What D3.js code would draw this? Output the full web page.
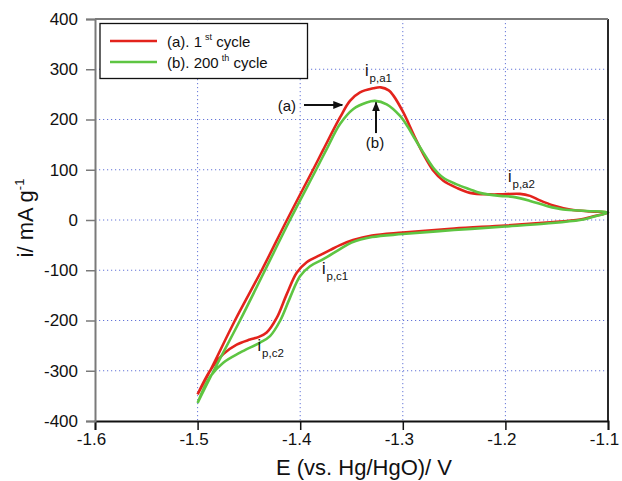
<!DOCTYPE html>
<html>
<head>
<meta charset="utf-8">
<script src="https://cdn.jsdelivr.net/npm/d3@7"></script>
<style>
  html, body { margin: 0; padding: 0; background: #fff; }
  svg { display: block; font-family: "Liberation Sans", Arial, Helvetica, sans-serif; }
</style>
</head>
<body>
<svg id="chart" width="622" height="481"></svg>
<script>
// Cyclic voltammograms: potential E (V vs. Hg/HgO) and specific current i (mA/g)
// 1st cycle, anodic sweep (-1.5 V -> -1.1 V)
const cycle1AnodicE = [-1.5, -1.4878, -1.4636, -1.4375, -1.4129, -1.3875, -1.3775, -1.3612, -1.3515, -1.3417, -1.3287, -1.3215, -1.3137, -1.3093, -1.2995, -1.2897, -1.2800, -1.2702, -1.2605, -1.2475, -1.2345, -1.2150, -1.2053, -1.1858, -1.1760, -1.1663, -1.1533, -1.1370, -1.1175, -1.1];
const cycle1AnodicI = [-347, -300, -200, -100, 0, 100, 140, 204, 237, 254, 262, 264, 258, 248, 214, 171, 131, 98, 78, 64, 54, 51, 51, 52, 48, 39, 29, 21, 17, 15];
// 1st cycle, cathodic sweep (-1.1 V -> -1.5 V)
const cycle1CathodicE = [-1.1, -1.1150, -1.1273, -1.1600, -1.2000, -1.2500, -1.3000, -1.3300, -1.3485, -1.3612, -1.3710, -1.3807, -1.3937, -1.4034, -1.4132, -1.4229, -1.4327, -1.4408, -1.4489, -1.4619, -1.4750, -1.4879, -1.5];
const cycle1CathodicI = [15, 7, 1, -5, -11, -17, -25, -31, -40, -50, -60, -70, -84, -105, -148, -195, -224, -233, -238, -248, -267, -300, -347];

// 200th cycle, anodic sweep
const cycle200AnodicE = [-1.5, -1.4843, -1.4587, -1.4343, -1.4100, -1.3845, -1.3742, -1.3612, -1.3482, -1.3352, -1.3271, -1.3157, -1.3027, -1.2947, -1.2898, -1.2800, -1.2703, -1.2605, -1.2475, -1.2345, -1.2248, -1.2053, -1.1926, -1.1760, -1.1597, -1.1439, -1.1208, -1.1];
const cycle200AnodicI = [-364, -300, -200, -100, 0, 100, 141, 191, 221, 234, 237, 230, 207, 184, 167, 134, 104, 84, 71, 61, 54, 48, 46, 38, 28, 21, 18, 15];
// 200th cycle, cathodic sweep
const cycle200CathodicE = [-1.1, -1.1150, -1.1273, -1.1600, -1.2000, -1.2500, -1.3000, -1.3300, -1.3500, -1.3612, -1.3775, -1.3904, -1.4002, -1.4100, -1.4197, -1.4294, -1.4392, -1.4587, -1.4750, -1.4879, -1.5];
const cycle200CathodicI = [15, 6, 0, -7, -13, -20, -28, -34, -45, -58, -78, -92, -112, -155, -201, -231, -244, -264, -284, -312, -364];

const seriesNames = ["(a). 1", "(b). 200"];
const seriesSup = ["st", "th"];
const seriesColors = ["#e3231c", "#5ec542"];

const xTicks = [-1.6, -1.5, -1.4, -1.3, -1.2, -1.1];
const yTicks = [-400, -300, -200, -100, 0, 100, 200, 300, 400];

// Peak labels (position in data units)
const peakLabels = [
  { sub: "p,a1", E: -1.3368, i: 287 },
  { sub: "p,a2", E: -1.1975, i: 76 },
  { sub: "p,c1", E: -1.3788, i: -108 },
  { sub: "p,c2", E: -1.4416, i: -261 }
];

const svg = d3.select("#chart");
const plotL = 95, plotR = 608, plotT = 19, plotB = 421;

const x = d3.scaleLinear().domain([-1.6, -1.1]).range([plotL, plotR]);
const y = d3.scaleLinear().domain([-400, 400]).range([plotB, plotT]);

// dotted grid
const grid = svg.append("g").attr("stroke", "#4a5ed2").attr("stroke-width", 1)
  .attr("stroke-dasharray", "1.2,2.8").attr("opacity", 0.85);
grid.selectAll("line.v").data(xTicks.slice(1, -1)).join("line").attr("class", "v")
  .attr("x1", d => x(d)).attr("x2", d => x(d)).attr("y1", plotT).attr("y2", plotB);
grid.selectAll("line.h").data(yTicks.slice(1, -1)).join("line").attr("class", "h")
  .attr("x1", plotL).attr("x2", plotR).attr("y1", d => y(d)).attr("y2", d => y(d));

// curves
const toPoints = (aE, aI, cE, cI) =>
  aE.map((e, k) => [e, aI[k]]).concat(cE.slice(1).map((e, k) => [e, cI[k + 1]]));
const series = [
  toPoints(cycle1AnodicE, cycle1AnodicI, cycle1CathodicE, cycle1CathodicI),
  toPoints(cycle200AnodicE, cycle200AnodicI, cycle200CathodicE, cycle200CathodicI)
];
const line = d3.line().x(d => x(d[0])).y(d => y(d[1])).curve(d3.curveCatmullRom.alpha(0.5));
svg.append("g").selectAll("path").data(series).join("path")
  .attr("d", line).attr("fill", "none")
  .attr("stroke", (d, k) => seriesColors[k]).attr("stroke-width", 2.6)
  .attr("stroke-linejoin", "round");

// frame: left/top grey, right/bottom black
svg.append("line").attr("x1", plotR).attr("x2", plotR).attr("y1", plotT).attr("y2", plotB)
  .attr("stroke", "#111").attr("stroke-width", 1.8);
svg.append("line").attr("x1", plotL).attr("x2", plotR).attr("y1", plotT).attr("y2", plotT)
  .attr("stroke", "#7a7a7a").attr("stroke-width", 1.8);

// tick labels with a plain hyphen as minus sign
const fmtX = d => d3.format(".1f")(d).replace("\u2212", "-");
const fmtY = d => d3.format("d")(d).replace("\u2212", "-");
const xAxis = svg.append("g").attr("transform", `translate(0,${plotB})`)
  .call(d3.axisBottom(x).tickValues(xTicks).tickFormat(fmtX).tickSize(9).tickPadding(3));
xAxis.select(".domain").attr("stroke", "#111").attr("stroke-width", 1.8);
xAxis.selectAll(".tick line").attr("stroke", "#111").attr("stroke-width", 1.5);
xAxis.selectAll(".tick text").attr("font-size", 17).attr("fill", "#111").attr("dx", -4)
  .attr("font-family", "Liberation Sans, Arial, sans-serif");

const yAxis = svg.append("g").attr("transform", `translate(${plotL},0)`)
  .call(d3.axisLeft(y).tickValues(yTicks).tickFormat(fmtY).tickSize(9).tickPadding(8));
yAxis.select(".domain").attr("stroke", "#7a7a7a").attr("stroke-width", 2);
yAxis.selectAll(".tick line").attr("stroke", "#7a7a7a").attr("stroke-width", 1.5);
yAxis.selectAll(".tick text").attr("font-size", 17).attr("fill", "#111")
  .attr("font-family", "Liberation Sans, Arial, sans-serif");

// axis titles
svg.append("text").attr("x", 364).attr("y", 475).attr("text-anchor", "middle")
  .attr("font-size", 22).attr("fill", "#111").text("E (vs. Hg/HgO)/ V");
const yt = svg.append("text").attr("transform", "translate(33,218) rotate(-90)")
  .attr("text-anchor", "middle").attr("font-size", 22).attr("fill", "#111");
yt.append("tspan").text("i/ mA g");
yt.append("tspan").attr("dy", -9).attr("font-size", 13).text("-1");

// legend
const lg = svg.append("g");
lg.append("rect").attr("x", 100).attr("y", 23.5).attr("width", 207.5).attr("height", 55)
  .attr("fill", "#fff").attr("stroke", "#111").attr("stroke-width", 1.3);
seriesNames.forEach((name, k) => {
  const cy = 41 + k * 21;
  lg.append("line").attr("x1", 110).attr("x2", 157).attr("y1", cy).attr("y2", cy)
    .attr("stroke", seriesColors[k]).attr("stroke-width", 2.6);
  const t = lg.append("text").attr("x", 167).attr("y", cy + 6).attr("font-size", 15).attr("fill", "#111");
  t.append("tspan").text(name);
  t.append("tspan").attr("dx", 3).attr("dy", -7).attr("font-size", 9).text(seriesSup[k]);
  t.append("tspan").attr("dy", 7).text(" cycle");
});

// peak labels
const pl = svg.append("g").attr("fill", "#111");
peakLabels.forEach(p => {
  const t = pl.append("text").attr("x", x(p.E)).attr("y", y(p.i)).attr("font-size", 16);
  t.append("tspan").text("i");
  t.append("tspan").attr("dx", 1).attr("dy", 6).attr("font-size", 11.5).text(p.sub);
});

// arrows marking the two cycles at the main anodic peak
const defs = svg.append("defs");
defs.append("marker").attr("id", "arrow").attr("viewBox", "0 0 10 10")
  .attr("refX", 9).attr("refY", 5).attr("markerWidth", 5).attr("markerHeight", 5)
  .attr("markerUnits", "strokeWidth").attr("orient", "auto")
  .append("path").attr("d", "M0,1 L10,5 L0,9 Z").attr("fill", "#111");
const arrows = [
  { label: "(a)", from: [-1.3963, 229], to: [-1.3590, 229], text: [-1.4129, 217] },
  { label: "(b)", from: [-1.3261, 173], to: [-1.3261, 234], text: [-1.3271, 143] }
];
arrows.forEach(a => {
  svg.append("line").attr("x1", x(a.from[0])).attr("y1", y(a.from[1]))
    .attr("x2", x(a.to[0])).attr("y2", y(a.to[1]))
    .attr("stroke", "#111").attr("stroke-width", 2).attr("marker-end", "url(#arrow)");
  svg.append("text").attr("x", x(a.text[0])).attr("y", y(a.text[1]))
    .attr("text-anchor", "middle").attr("font-size", 15).attr("fill", "#111").text(a.label);
});
</script>
</body>
</html>
